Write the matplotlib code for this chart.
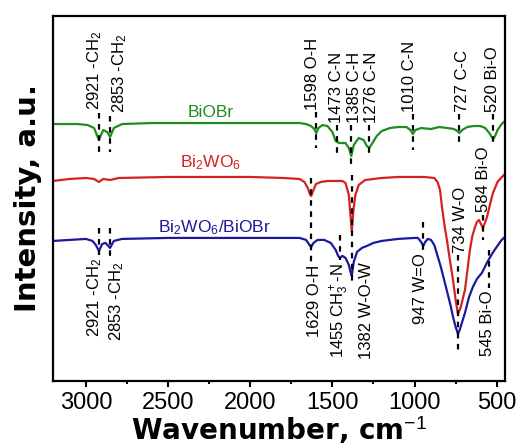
import matplotlib
matplotlib.use("Agg")
import matplotlib.pyplot as plt

plt.rcParams['font.family'] = ['Liberation Sans', 'DejaVu Sans']
plt.rcParams['mathtext.fontset'] = 'custom'
plt.rcParams['mathtext.rm'] = 'Liberation Sans'
plt.rcParams['mathtext.it'] = 'Liberation Sans:italic'
plt.rcParams['mathtext.bf'] = 'Liberation Sans:bold'

# spectra: wavenumber (cm-1) and offset intensity (a.u.)
biobr_wn = [3200, 3050, 2990, 2950, 2921, 2895, 2870, 2853, 2830, 2780, 2600, 2300, 2000,
            1800, 1700, 1660, 1630, 1610, 1598, 1585, 1560, 1530, 1500, 1480, 1460, 1420,
            1400, 1385, 1370, 1340, 1310, 1290, 1276, 1260, 1230, 1200, 1150, 1100, 1050,
            1025, 1010, 995, 960, 900, 850, 800, 760, 740, 727, 710, 680, 640, 600, 570,
            545, 530, 520, 510, 495, 470, 450]
biobr_i = [276, 276, 275, 272, 260, 270, 268, 263, 272, 276, 277, 277, 277,
           277, 277, 276, 274, 271, 267, 272, 275, 274, 268, 259, 257, 257,
           252, 244, 255, 262, 260, 254, 252, 256, 264, 269, 272, 273, 273,
           270, 266, 270, 272, 271, 273, 272, 271, 269, 267, 270, 273, 274, 274, 272,
           267, 263, 261, 264, 270, 276, 279]

bwo_wn = [3200, 3100, 3000, 2950, 2921, 2895, 2853, 2800, 2500, 2200, 2000, 1800, 1700,
          1670, 1650, 1635, 1629, 1615, 1600, 1570, 1530, 1480, 1440, 1420, 1400, 1390,
          1382, 1372, 1360, 1340, 1300, 1200, 1100, 1000, 940, 880, 860, 845, 833, 818,
          803, 785, 766, 750, 736, 720, 705, 693, 678, 663, 648, 632, 620, 608, 596,
          584, 572, 559, 540, 523, 495, 468, 450]
bwo_i = [219, 221, 222, 221, 218, 221, 220, 222, 223, 223, 223, 222, 221,
         218, 212, 205, 204, 210, 216, 218, 219, 219, 219, 217, 205, 185,
         168, 190, 205, 215, 220, 222, 223, 223, 223, 222, 218, 210, 193, 175,
         160, 140, 120, 100, 86, 92, 102, 110, 130, 150, 164, 173, 178, 180, 176,
         172, 177, 183, 196, 207, 218, 223, 226]

comp_wn = [3200, 3100, 3000, 2960, 2940, 2921, 2900, 2880, 2853, 2830, 2780, 2500, 2000,
           1800, 1700, 1660, 1640, 1629, 1615, 1590, 1550, 1510, 1480, 1465, 1455, 1440,
           1420, 1400, 1390, 1382, 1370, 1350, 1320, 1290, 1250, 1200, 1100, 1000, 980,
           960, 947, 935, 920, 900, 880, 860, 840, 820, 800, 780, 766, 750, 736, 725,
           710, 693, 670, 645, 620, 590, 560, 525, 500, 470, 450]
comp_i = [159, 160, 161, 159, 155, 149, 156, 157, 152, 159, 161, 162, 162,
          162, 162, 160, 155, 153, 157, 160, 160, 157, 150, 144, 142, 144,
          142, 135, 128, 124, 138, 148, 152, 154, 157, 159, 161, 162, 162,
          158, 154, 158, 161, 160, 155, 144, 133, 120, 107, 94, 83, 73, 66, 70,
          78, 87, 102, 113, 121, 127, 137, 147, 153, 160, 163]

# peak markers: line position, dash from/to, label position, label anchor, text
top_marks = [
    (2921, 287, 243, 2945, 290, '2921 -CH$_2$'),
    (2853, 284, 248, 2793, 287, '2853 -CH$_2$'),
    (1598, 288, 252, 1618, 290, '1598 O-H'),
    (1473, 275, 243, 1472, 277, '1473 C-N'),
    (1385, 275, 233, 1363, 277, '1385 C-H'),
    (1276, 275, 243, 1259, 277, '1276 C-N'),
    (1010, 286, 250, 1028, 288, '1010 C-N'),
    (727, 286, 253, 711, 288, '727 C-C'),
    (520, 286, 255, 523, 288, '520 Bi-O'),
    (734, 145, 50, 718, 147, '734 W-O'),
    (584, 185, 160, 578, 188, '584 Bi-O'),
]
bottom_marks = [
    (2921, 172, 145, 2945, 142, '2921 -CH$_2$'),
    (2853, 172, 142, 2811, 138, '2853 -CH$_2$'),
    (1629, 222, 138, 1606, 135, '1629 O-H'),
    (1455, 165, 140, 1454, 137, '1455 CH$_3^+$-N'),
    (1382, 225, 117, 1290, 138, '1382 W-O-W'),
    (947, 178, 150, 961, 147, '947 W=O'),
    (545, 150, 112, 559, 110, '545 Bi-O'),
]

green = '#1e8c1e'
red = '#d42222'
blue = '#1a1a9e'

fig = plt.figure(figsize=(5.2, 4.48), dpi=100)
ax = fig.add_axes([0.102, 0.150, 0.869, 0.814])

ax.plot(biobr_wn, biobr_i, color=green, lw=1.6)
ax.plot(bwo_wn, bwo_i, color=red, lw=1.6)
ax.plot(comp_wn, comp_i, color=blue, lw=1.6)

for wn, y0, y1, tx, ty, txt in top_marks:
    ax.plot([wn, wn], [y0, y1], color='black', lw=1.6, dashes=(2.5, 2.5))
    ax.text(tx, ty, txt, rotation=90, ha='center', va='bottom', fontsize=12)
for wn, y0, y1, tx, ty, txt in bottom_marks:
    ax.plot([wn, wn], [y0, y1], color='black', lw=1.6, dashes=(2.5, 2.5))
    ax.text(tx, ty, txt, rotation=90, ha='center', va='top', fontsize=12)

ax.text(2239, 283, 'BiOBr', color=green, fontsize=12.5, ha='center', va='baseline')
ax.text(2239, 233, 'Bi$_2$WO$_6$', color=red, fontsize=12.5, ha='center', va='baseline')
ax.text(2215, 168, 'Bi$_2$WO$_6$/BiOBr', color=blue, fontsize=12.5, ha='center', va='baseline')

ax.set_xlim(3200, 450)
ax.set_ylim(19, 384)
ax.set_xticks([3000, 2500, 2000, 1500, 1000, 500])
ax.set_xticks([2750, 2250, 1750, 1250, 750], minor=True)
ax.set_yticks([])
ax.tick_params(axis='x', which='major', direction='out', length=4, width=1.5, labelsize=17, pad=4)
ax.tick_params(axis='x', which='minor', direction='out', length=2.5, width=1.5)
for s in ax.spines.values():
    s.set_linewidth(1.6)

ax.set_xlabel('Wavenumber, cm$^{-1}$', family='DejaVu Sans', fontweight='bold', fontsize=20, labelpad=0)
ax.set_ylabel('Intensity, a.u.', family='DejaVu Sans', fontweight='bold', fontsize=21, labelpad=8)

fig.savefig('out.png', dpi=100)
